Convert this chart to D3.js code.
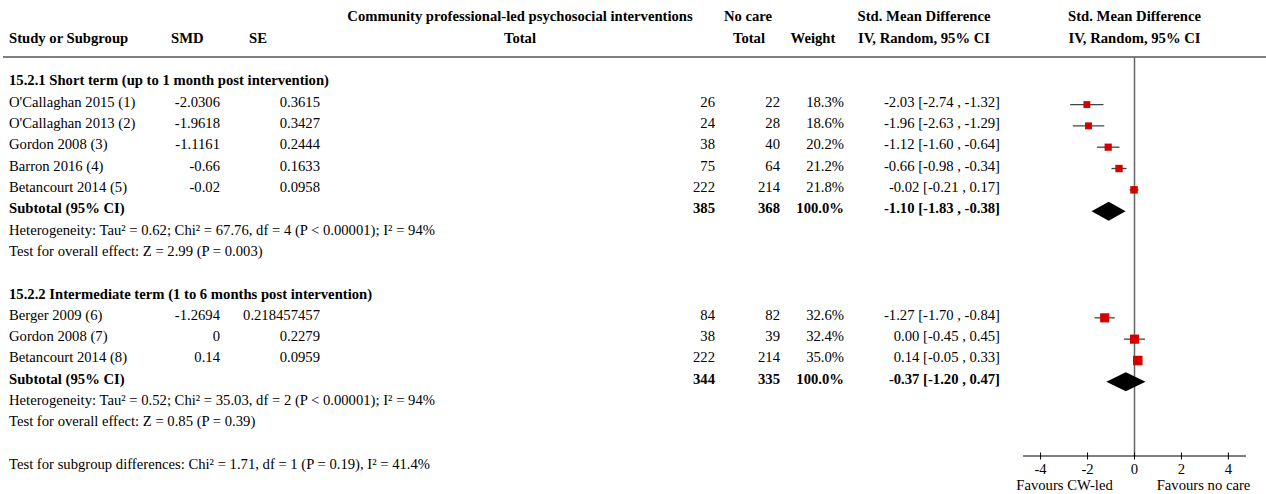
<!DOCTYPE html>
<html>
<head>
<meta charset="utf-8">
<script src="https://cdn.jsdelivr.net/npm/d3@7"></script>
<style>
  html, body { margin: 0; padding: 0; background: #fff; }
  svg text { font-family: "Liberation Serif", "Times New Roman", serif; font-size: 14.667px; fill: #000; }
  .b { font-weight: bold; }
</style>
</head>
<body>
<svg id="chart" width="1266" height="494"></svg>
<script>
// ---- data ----
const group1Title = "15.2.1 Short term (up to 1 month post intervention)";
const group1Studies = ["O'Callaghan 2015 (1)", "O'Callaghan 2013 (2)", "Gordon 2008 (3)", "Barron 2016 (4)", "Betancourt 2014 (5)"];
const group1SMD = ["-2.0306", "-1.9618", "-1.1161", "-0.66", "-0.02"];
const group1SE = ["0.3615", "0.3427", "0.2444", "0.1633", "0.0958"];
const group1ExpTotal = [26, 24, 38, 75, 222];
const group1CtrlTotal = [22, 28, 40, 64, 214];
const group1Weight = [18.3, 18.6, 20.2, 21.2, 21.8];
const group1Est = [-2.03, -1.96, -1.12, -0.66, -0.02];
const group1Lo = [-2.74, -2.63, -1.60, -0.98, -0.21];
const group1Hi = [-1.32, -1.29, -0.64, -0.34, 0.17];
const group1Subtotal = { exp: 385, ctrl: 368, weight: 100.0, est: -1.10, lo: -1.83, hi: -0.38 };
const group1Het = "Heterogeneity: Tau² = 0.62; Chi² = 67.76, df = 4 (P < 0.00001); I² = 94%";
const group1Test = "Test for overall effect: Z = 2.99 (P = 0.003)";

const group2Title = "15.2.2 Intermediate term (1 to 6 months post intervention)";
const group2Studies = ["Berger 2009 (6)", "Gordon 2008 (7)", "Betancourt 2014 (8)"];
const group2SMD = ["-1.2694", "0", "0.14"];
const group2SE = ["0.218457457", "0.2279", "0.0959"];
const group2ExpTotal = [84, 38, 222];
const group2CtrlTotal = [82, 39, 214];
const group2Weight = [32.6, 32.4, 35.0];
const group2Est = [-1.27, 0.00, 0.14];
const group2Lo = [-1.70, -0.45, -0.05];
const group2Hi = [-0.84, 0.45, 0.33];
const group2Subtotal = { exp: 344, ctrl: 335, weight: 100.0, est: -0.37, lo: -1.20, hi: 0.47 };
const group2Het = "Heterogeneity: Tau² = 0.52; Chi² = 35.03, df = 2 (P < 0.00001); I² = 94%";
const group2Test = "Test for overall effect: Z = 0.85 (P = 0.39)";

const subgroupTest = "Test for subgroup differences: Chi² = 1.71, df = 1 (P = 0.19), I² = 41.4%";
const axisTicks = [-4, -2, 0, 2, 4];
const axisLabels = ["Favours CW-led", "Favours no care"];

// ---- layout ----
const svg = d3.select("#chart");
const x = d3.scaleLinear().domain([-4.75, 4.75]).range([1023, 1246]);
const row0 = 85.2, step = 21.33;
const rowY = i => row0 + i * step;
const col = { name: 9, smd: 220, se: 320, exp: 715, ctrl: 780, w: 844, ci: 1000 };
const fmtCI = (e, l, h) => `${e.toFixed(2)} [${l.toFixed(2)} , ${h.toFixed(2)}]`;

function txt(xp, yp, s, anchor, bold) {
  svg.append("text").attr("x", xp).attr("y", yp).attr("text-anchor", anchor || "start")
    .attr("class", bold ? "b" : null).text(s);
}

// header
txt(520, 20.5, "Community professional-led psychosocial interventions", "middle", true);
txt(520, 42.5, "Total", "middle", true);
txt(9, 42.5, "Study or Subgroup", "start", true);
txt(171, 42.5, "SMD", "start", true);
txt(249, 42.5, "SE", "start", true);
txt(748, 20.5, "No care", "middle", true);
txt(749, 42.5, "Total", "middle", true);
txt(813, 42.5, "Weight", "middle", true);
txt(924, 20.5, "Std. Mean Difference", "middle", true);
txt(924, 42.5, "IV, Random, 95% CI", "middle", true);
txt(x(0), 20.5, "Std. Mean Difference", "middle", true);
txt(x(0), 42.5, "IV, Random, 95% CI", "middle", true);

svg.append("line").attr("x1", 3).attr("x2", 1266).attr("y1", 57).attr("y2", 57)
  .attr("stroke", "#808080").attr("stroke-width", 2);

// zero line
const axisY = 456;
svg.append("line").attr("x1", x(0)).attr("x2", x(0)).attr("y1", 57).attr("y2", axisY)
  .attr("stroke", "#666").attr("stroke-width", 1.5);

function group(startRow, title, studies, smd, se, exp, ctrl, wt, est, lo, hi, sub, het, test) {
  txt(col.name, rowY(startRow), title, "start", true);
  studies.forEach((s, i) => {
    const y = rowY(startRow + 1 + i);
    txt(col.name, y, s);
    txt(col.smd, y, smd[i], "end");
    txt(col.se, y, se[i], "end");
    txt(col.exp, y, exp[i], "end");
    txt(col.ctrl, y, ctrl[i], "end");
    txt(col.w, y, wt[i].toFixed(1) + "%", "end");
    txt(col.ci, y, fmtCI(est[i], lo[i], hi[i]), "end");
    const my = y - 2;
    svg.append("line").attr("x1", x(lo[i])).attr("x2", x(hi[i])).attr("y1", my).attr("y2", my)
      .attr("stroke", "#444").attr("stroke-width", 1.3);
    const sz = 1.6 * Math.sqrt(wt[i]);
    svg.append("rect").attr("x", x(est[i]) - sz / 2).attr("y", my - sz / 2)
      .attr("width", sz).attr("height", sz).attr("fill", "#d40000");
  });
  const sr = startRow + 1 + studies.length;
  const y = rowY(sr);
  txt(col.name, y, "Subtotal (95% CI)", "start", true);
  txt(col.exp, y, sub.exp, "end", true);
  txt(col.ctrl, y, sub.ctrl, "end", true);
  txt(col.w, y, sub.weight.toFixed(1) + "%", "end", true);
  txt(col.ci, y, fmtCI(sub.est, sub.lo, sub.hi), "end", true);
  const dy = y - 2, h = 9.5;
  svg.append("path")
    .attr("d", `M${x(sub.lo)},${dy} L${x(sub.est)},${dy - h} L${x(sub.hi)},${dy} L${x(sub.est)},${dy + h} Z`)
    .attr("fill", "#000");
  txt(col.name, rowY(sr + 1), het);
  txt(col.name, rowY(sr + 2), test);
  return sr + 3;
}

let next = group(0, group1Title, group1Studies, group1SMD, group1SE, group1ExpTotal, group1CtrlTotal,
  group1Weight, group1Est, group1Lo, group1Hi, group1Subtotal, group1Het, group1Test);
next = group(next + 1, group2Title, group2Studies, group2SMD, group2SE, group2ExpTotal, group2CtrlTotal,
  group2Weight, group2Est, group2Lo, group2Hi, group2Subtotal, group2Het, group2Test);
txt(col.name, rowY(next + 1), subgroupTest);

// axis
const ax = svg.append("g").attr("transform", `translate(0,${axisY})`);
ax.append("line").attr("x1", x(-4.75)).attr("x2", x(4.75)).attr("y1", 0).attr("y2", 0)
  .attr("stroke", "#000").attr("stroke-width", 1);
ax.selectAll("line.t").data(axisTicks).join("line").attr("class", "t")
  .attr("x1", d => x(d)).attr("x2", d => x(d)).attr("y1", -3.5).attr("y2", 3.5)
  .attr("stroke", "#000").attr("stroke-width", 1);
ax.selectAll("text.t").data(axisTicks).join("text").attr("class", "t")
  .attr("x", d => x(d)).attr("y", 18).attr("text-anchor", "middle").text(d => d);
txt(1064.5, 489.5, axisLabels[0], "middle");
txt(1203.5, 489.5, axisLabels[1], "middle");
</script>
</body>
</html>
